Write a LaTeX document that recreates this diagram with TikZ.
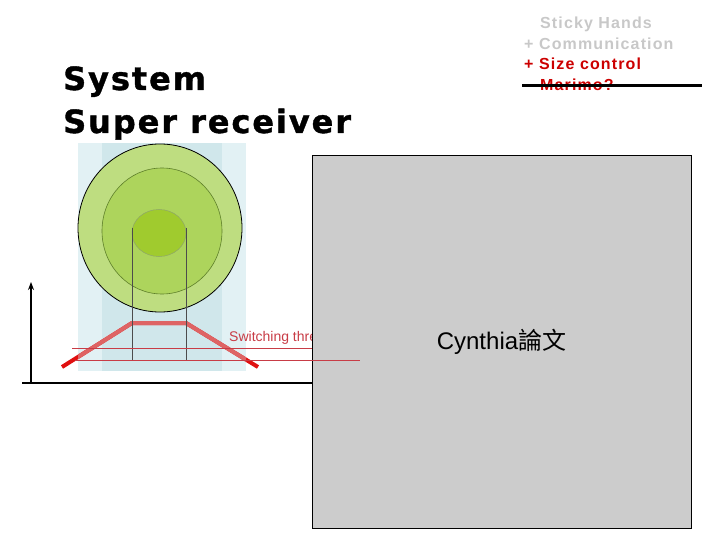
\documentclass[tikz,border=0pt]{standalone}
\usepackage{fontspec,xcolor,tikz}
\usetikzlibrary{arrows.meta}
\setmainfont{Liberation Sans}
\newfontfamily\titelschrift[LetterSpace=6,BoldFeatures={FakeBold=1.2}]{DejaVu Sans}
\newfontfamily\listenschrift[LetterSpace=7]{Liberation Sans}
\newfontfamily\cjk{Noto Sans CJK TC}
\definecolor{ink}{HTML}{000000}
\definecolor{blassgrau}{HTML}{C8C8C8}
\definecolor{rot}{HTML}{CC0000}
\definecolor{eisblau}{HTML}{E2F1F4}
\definecolor{eisblaudunkel}{HTML}{D0E7EB}
\definecolor{gruena}{HTML}{BEDD80}
\definecolor{gruenb}{HTML}{ADD45C}
\definecolor{gruenc}{HTML}{A0CB2E}
\definecolor{gruenrand}{HTML}{5E7F2A}
\definecolor{kurve}{HTML}{DE6464}
\definecolor{kurvehell}{HTML}{E01010}
\definecolor{schwelle}{HTML}{C83C46}
\definecolor{papier}{HTML}{CCCCCC}
\newcommand{\titel}{\titelschrift\fontsize{32}{38}\selectfont\bfseries}
\newcommand{\liste}{\listenschrift\fontsize{16}{20}\selectfont\bfseries}
\newcommand{\klein}{\fontsize{14}{17}\selectfont}
\newcommand{\gross}{\fontsize{24}{28}\selectfont}
\tikzset{trapez/.style={line width=4pt,line join=round},
  schwellenlinie/.style={schwelle,line width=0.9pt},
  lot/.style={ink!70,line width=0.9pt},
  achse/.style={ink,line width=2.5pt}}
\newcommand{\kurvenzug}{(62,367) -- (132,323) -- (186,323) -- (258,367)}

\begin{document}
\begin{tikzpicture}[x=1pt,y=-1pt]
\useasboundingbox (0,0) rectangle (720,540);
\node[anchor=base west,inner sep=0,text=ink,font=\titel] (titelsystem) at (63,90) {System};
\node[anchor=base west,inner sep=0,text=ink,font=\titel] (titelempf) at (63,133) {Super receiver};
\node[anchor=base west,inner sep=0,text=blassgrau,font=\liste] (sticky) at (540,29) {Sticky Hands};
\node[anchor=base west,inner sep=0,text=blassgrau,font=\liste] (komm) at (524,50) {+ Communication};
\node[anchor=base west,inner sep=0,text=rot,font=\liste] (groesse) at (524,70) {+ Size control};
\node[anchor=base west,inner sep=0,text=rot,font=\liste] (marimo) at (540,91) {Marimo?};
\draw[ink,line width=3pt] (522,86) -- (702,86);
\fill[eisblau] (78,143) rectangle (246,371);
\fill[eisblaudunkel] (102,143) rectangle (222,371);
\draw[kurvehell,trapez] \kurvenzug;
\begin{scope}
\clip (78,143) rectangle (246,371);
\draw[kurve,trapez] \kurvenzug;
\end{scope}
\draw[ink,line width=0.8pt,fill=gruena] (160,228) ellipse[x radius=82,y radius=84];
\draw[gruenrand,line width=0.6pt,fill=gruenb] (162,231) ellipse[x radius=60,y radius=63];
\draw[gruenrand!70,line width=0.5pt,fill=gruenc] (159,233) ellipse[x radius=27,y radius=23.5];
\draw[lot] (132,228) -- (132,360) (186,228) -- (186,360);
\draw[schwellenlinie] (72,348) -- (313,348);
\node[anchor=base west,inner sep=0,text=schwelle,font=\klein] (schwelletext) at (229,341) {Switching threshold};
\draw[achse,-{Stealth[length=8pt,width=6pt]}] (31,383) -- (31,282);
\draw[achse] (22,383) -- (313,383);
\node[draw=ink,fill=papier,line width=1pt,minimum width=379,minimum height=372,inner sep=0,font=\gross] (cynthia) at (501.5,342) {Cynthia{\cjk 論文}};
\draw[schwellenlinie] (75,360) -- (360,360);
\end{tikzpicture}
\end{document}
